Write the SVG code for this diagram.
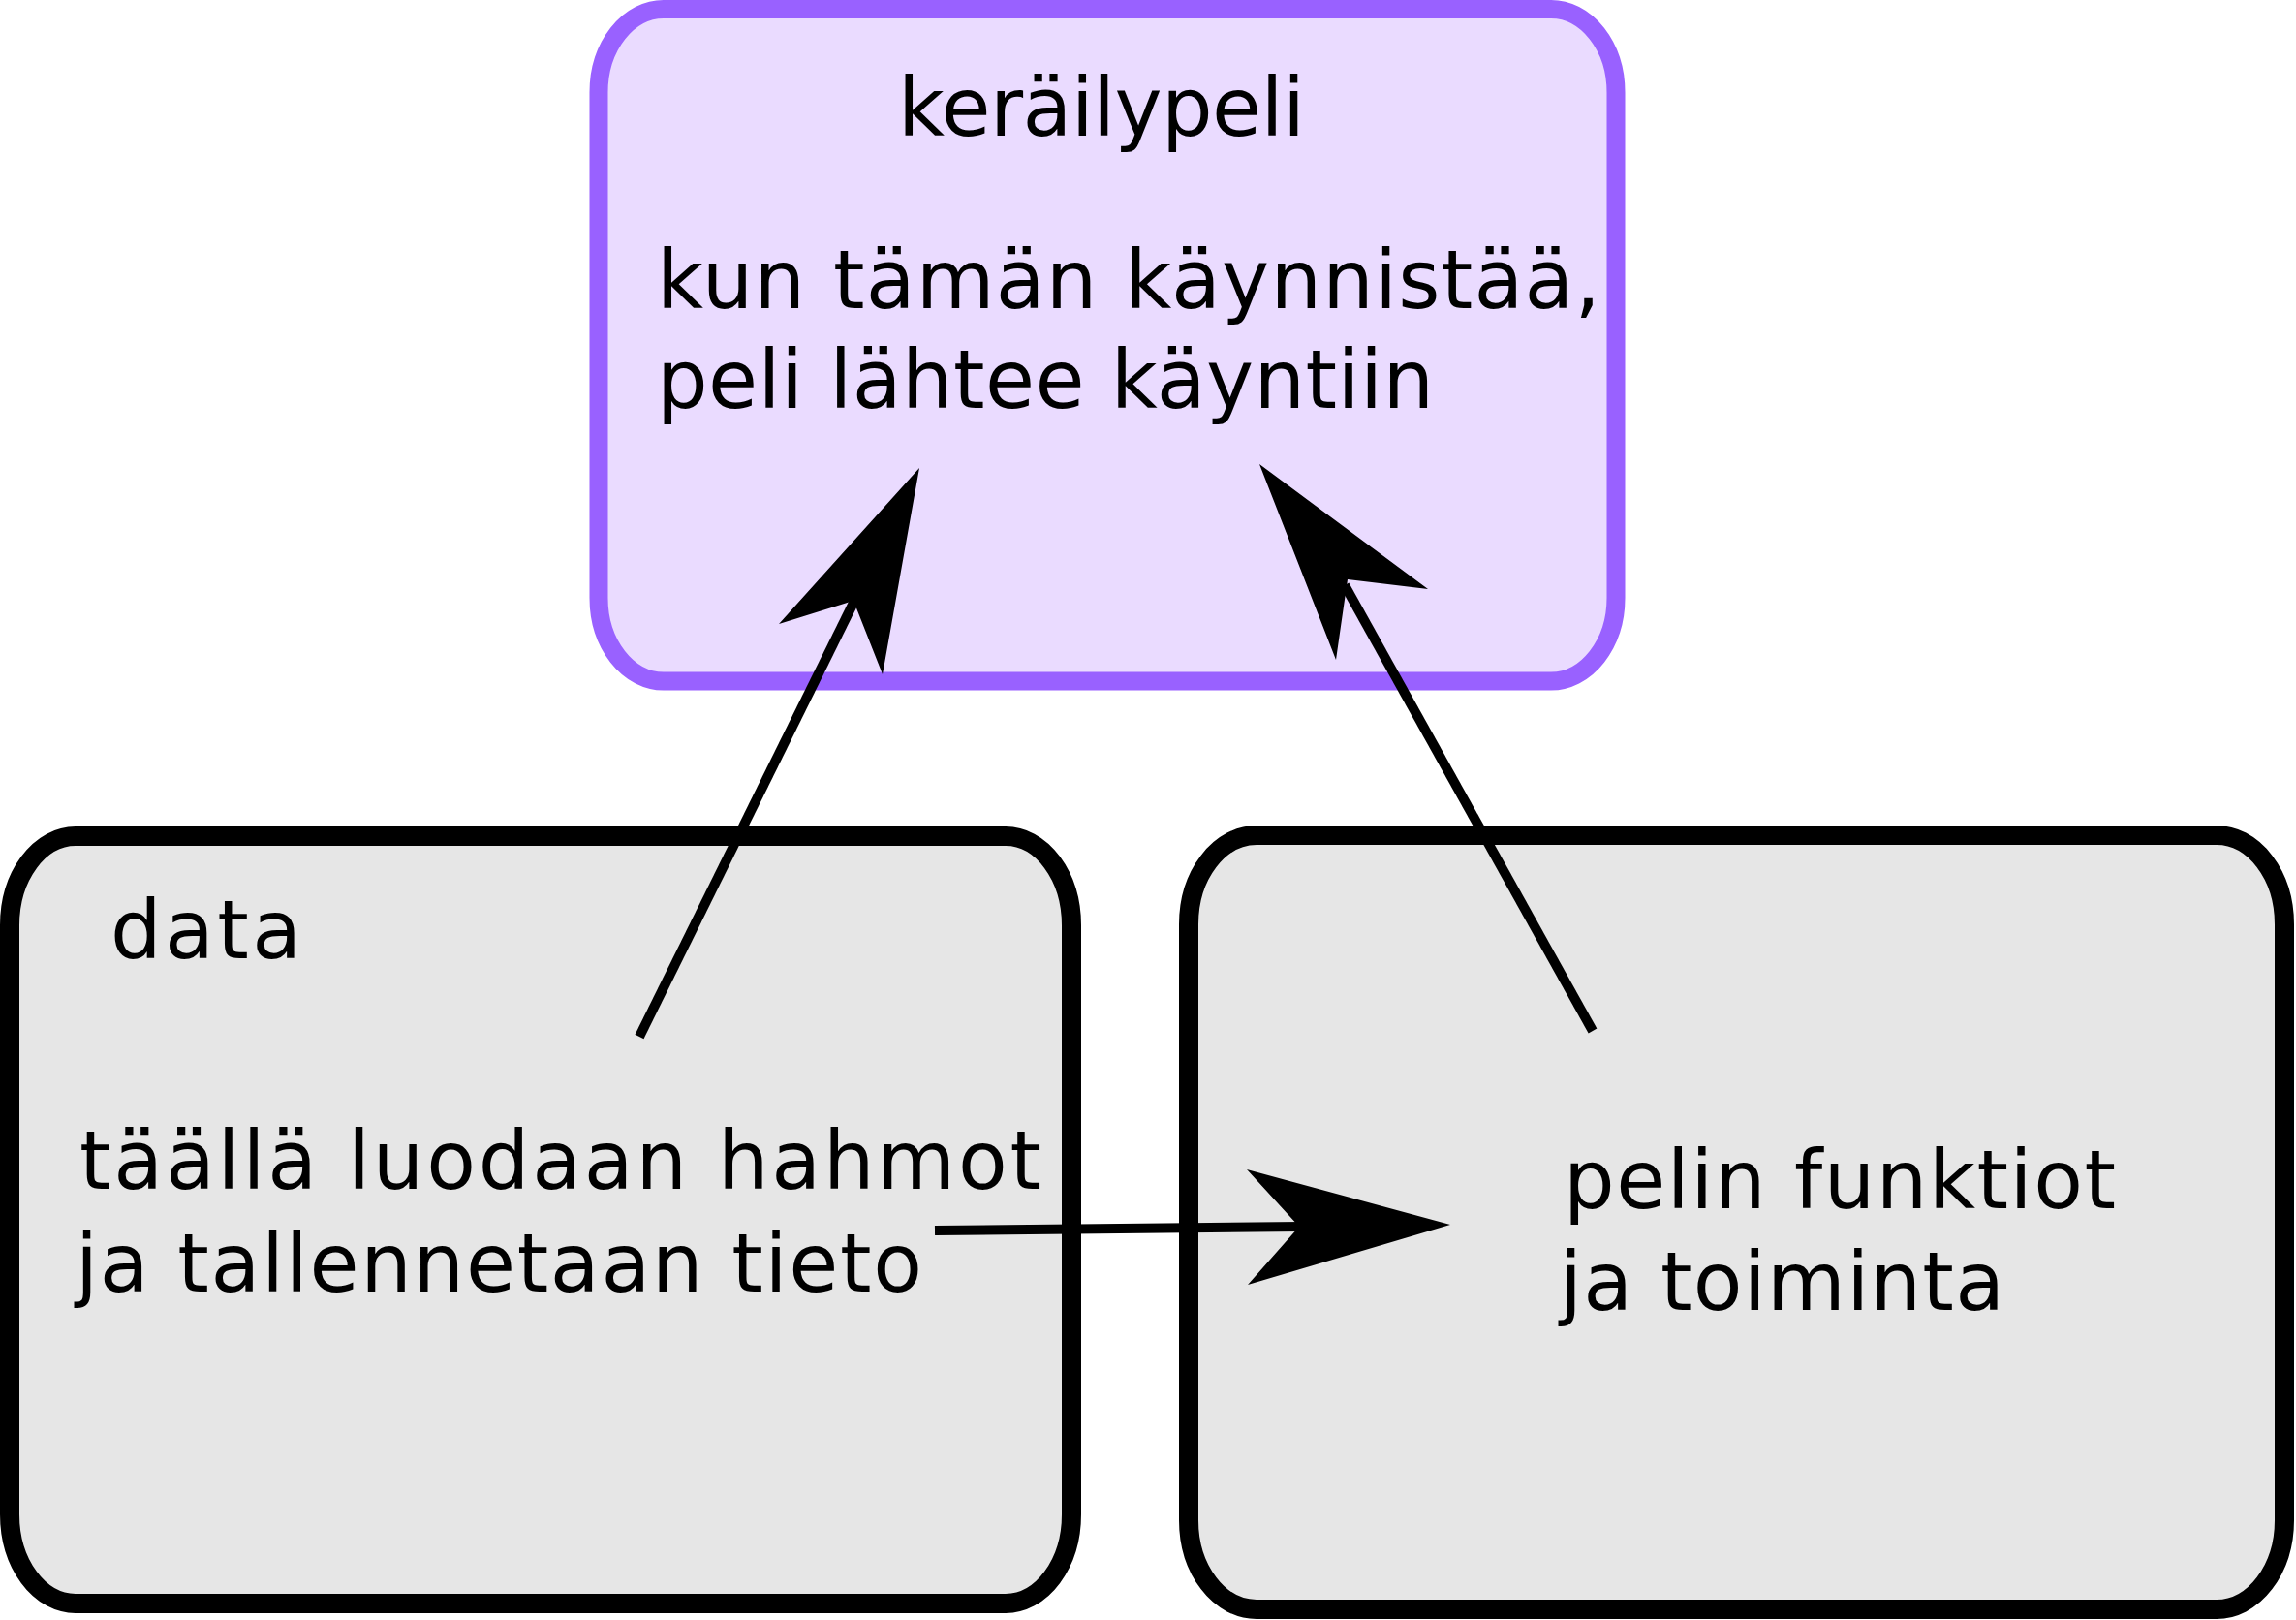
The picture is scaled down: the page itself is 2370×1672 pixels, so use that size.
<svg xmlns="http://www.w3.org/2000/svg" width="2370" height="1672" viewBox="0 0 2370 1672">
<style>
.t{font-family:"DejaVu Sans","Liberation Sans",sans-serif;font-size:83px;fill:#000}
.purple{fill:#eadbff;stroke:#9961ff;stroke-width:19}
.gray{fill:#e6e6e6;stroke:#000;stroke-width:20}
.conn{stroke:#000;stroke-width:10;fill:none}
.head{fill:#000}
</style>
<rect width="2370" height="1672" fill="#ffffff"/>
<g id="node-kerailypeli">
<rect class="purple" x="618" y="9.5" width="1050" height="693.5" rx="67" ry="86"/>
<text class="t" x="927" y="140" textLength="420">keräilypeli</text>
<text class="t" x="678" y="318" textLength="974">kun tämän käynnistää,</text>
<text class="t" x="678" y="421" textLength="802">peli lähtee käyntiin</text>
</g>
<g id="node-data">
<rect class="gray" x="10" y="863" width="1096" height="792" rx="68" ry="92"/>
<text class="t" x="114" y="989" textLength="197">data</text>
<text class="t" x="82" y="1227" textLength="993">täällä luodaan hahmot</text>
<text class="t" x="78" y="1333" textLength="874">ja tallennetaan tieto</text>
</g>
<g id="node-pelin-funktiot">
<rect class="gray" x="1227" y="862" width="1131" height="799" rx="70" ry="92"/>
<text class="t" x="1614" y="1247" textLength="570">pelin funktiot</text>
<text class="t" x="1610" y="1352" textLength="459">ja toiminta</text>
</g>
<g id="connectors">
<path class="conn" d="M660,1070 L883,618"/>
<polygon class="head" points="949,483 804,644 881,620 911,696"/>
<path class="conn" d="M1644,1064 L1388,604"/>
<polygon class="head" points="1300,479 1474,608 1391,598 1379,681"/>
<path class="conn" d="M965,1270 L1343,1266"/>
<polygon class="head" points="1497,1264 1287,1207 1341,1266 1288,1326"/>
</g>
</svg>
